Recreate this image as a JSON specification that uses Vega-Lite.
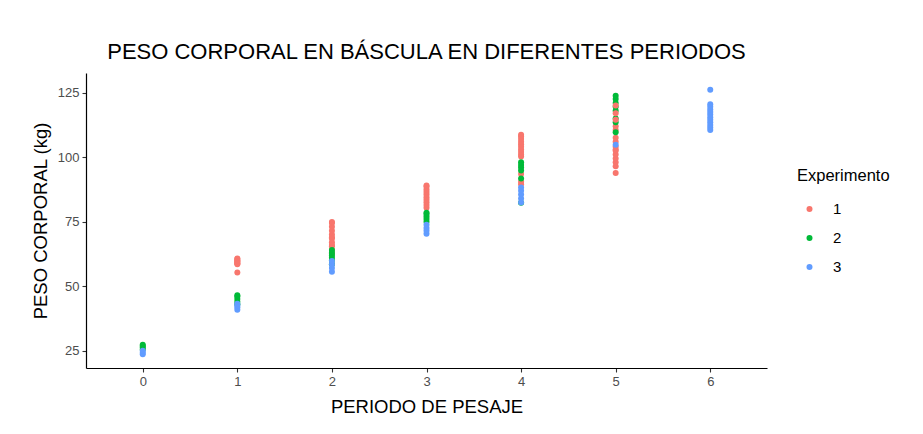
{
  "$schema": "https://vega.github.io/schema/vega-lite/v6.json",
  "width": 681,
  "height": 295,
  "autosize": "none",
  "padding": {"left": 86, "top": 73, "right": 156, "bottom": 66},
  "background": "white",
  "config": {
    "view": {"stroke": null},
    "font": "Liberation Sans"
  },
  "title": {
    "text": "PESO CORPORAL EN BÁSCULA EN DIFERENTES PERIODOS",
    "font": "Liberation Sans",
    "fontSize": 22,
    "fontWeight": "normal",
    "color": "#000000",
    "anchor": "middle",
    "baseline": "alphabetic",
    "offset": -8
  },
  "data": {
    "values": [
      {"periodo": 1, "peso": 55.3, "exp": "1"},
      {"periodo": 1, "peso": 58.5, "exp": "1"},
      {"periodo": 1, "peso": 59.0, "exp": "1"},
      {"periodo": 1, "peso": 59.5, "exp": "1"},
      {"periodo": 1, "peso": 60.0, "exp": "1"},
      {"periodo": 1, "peso": 60.5, "exp": "1"},
      {"periodo": 1, "peso": 60.7, "exp": "1"},
      {"periodo": 1, "peso": 59.8, "exp": "1"},
      {"periodo": 1, "peso": 58.8, "exp": "1"},
      {"periodo": 2, "peso": 62.7, "exp": "1"},
      {"periodo": 2, "peso": 64.0, "exp": "1"},
      {"periodo": 2, "peso": 65.5, "exp": "1"},
      {"periodo": 2, "peso": 67.0, "exp": "1"},
      {"periodo": 2, "peso": 68.5, "exp": "1"},
      {"periodo": 2, "peso": 70.0, "exp": "1"},
      {"periodo": 2, "peso": 71.5, "exp": "1"},
      {"periodo": 2, "peso": 73.0, "exp": "1"},
      {"periodo": 2, "peso": 74.5, "exp": "1"},
      {"periodo": 2, "peso": 74.9, "exp": "1"},
      {"periodo": 2, "peso": 66.0, "exp": "1"},
      {"periodo": 2, "peso": 69.0, "exp": "1"},
      {"periodo": 3, "peso": 80.4, "exp": "1"},
      {"periodo": 3, "peso": 81.5, "exp": "1"},
      {"periodo": 3, "peso": 82.5, "exp": "1"},
      {"periodo": 3, "peso": 83.5, "exp": "1"},
      {"periodo": 3, "peso": 84.5, "exp": "1"},
      {"periodo": 3, "peso": 85.5, "exp": "1"},
      {"periodo": 3, "peso": 86.5, "exp": "1"},
      {"periodo": 3, "peso": 87.5, "exp": "1"},
      {"periodo": 3, "peso": 88.5, "exp": "1"},
      {"periodo": 3, "peso": 89.0, "exp": "1"},
      {"periodo": 4, "peso": 100.2, "exp": "1"},
      {"periodo": 4, "peso": 101.0, "exp": "1"},
      {"periodo": 4, "peso": 102.0, "exp": "1"},
      {"periodo": 4, "peso": 103.0, "exp": "1"},
      {"periodo": 4, "peso": 104.0, "exp": "1"},
      {"periodo": 4, "peso": 105.0, "exp": "1"},
      {"periodo": 4, "peso": 106.0, "exp": "1"},
      {"periodo": 4, "peso": 107.0, "exp": "1"},
      {"periodo": 4, "peso": 108.0, "exp": "1"},
      {"periodo": 4, "peso": 108.7, "exp": "1"},
      {"periodo": 4, "peso": 93.5, "exp": "1"},
      {"periodo": 4, "peso": 90.5, "exp": "1"},
      {"periodo": 4, "peso": 89.5, "exp": "1"},
      {"periodo": 5, "peso": 93.9, "exp": "1"},
      {"periodo": 5, "peso": 96.5, "exp": "1"},
      {"periodo": 5, "peso": 98.0, "exp": "1"},
      {"periodo": 5, "peso": 99.5, "exp": "1"},
      {"periodo": 5, "peso": 101.0, "exp": "1"},
      {"periodo": 5, "peso": 102.5, "exp": "1"},
      {"periodo": 5, "peso": 104.0, "exp": "1"},
      {"periodo": 5, "peso": 106.0, "exp": "1"},
      {"periodo": 5, "peso": 107.5, "exp": "1"},
      {"periodo": 5, "peso": 110.5, "exp": "1"},
      {"periodo": 5, "peso": 112.0, "exp": "1"},
      {"periodo": 5, "peso": 103.0, "exp": "1"},
      {"periodo": 0, "peso": 25.5, "exp": "2"},
      {"periodo": 0, "peso": 26.2, "exp": "2"},
      {"periodo": 0, "peso": 26.8, "exp": "2"},
      {"periodo": 0, "peso": 27.3, "exp": "2"},
      {"periodo": 1, "peso": 43.0, "exp": "2"},
      {"periodo": 1, "peso": 44.0, "exp": "2"},
      {"periodo": 1, "peso": 45.0, "exp": "2"},
      {"periodo": 1, "peso": 46.0, "exp": "2"},
      {"periodo": 1, "peso": 46.5, "exp": "2"},
      {"periodo": 2, "peso": 58.5, "exp": "2"},
      {"periodo": 2, "peso": 60.0, "exp": "2"},
      {"periodo": 2, "peso": 61.0, "exp": "2"},
      {"periodo": 2, "peso": 62.0, "exp": "2"},
      {"periodo": 2, "peso": 63.0, "exp": "2"},
      {"periodo": 2, "peso": 64.0, "exp": "2"},
      {"periodo": 3, "peso": 75.0, "exp": "2"},
      {"periodo": 3, "peso": 76.0, "exp": "2"},
      {"periodo": 3, "peso": 77.0, "exp": "2"},
      {"periodo": 3, "peso": 78.0, "exp": "2"},
      {"periodo": 3, "peso": 78.5, "exp": "2"},
      {"periodo": 4, "peso": 96.0, "exp": "2"},
      {"periodo": 4, "peso": 97.0, "exp": "2"},
      {"periodo": 4, "peso": 98.0, "exp": "2"},
      {"periodo": 4, "peso": 94.8, "exp": "2"},
      {"periodo": 4, "peso": 91.7, "exp": "2"},
      {"periodo": 4, "peso": 82.3, "exp": "2"},
      {"periodo": 5, "peso": 123.8, "exp": "2"},
      {"periodo": 5, "peso": 122.5, "exp": "2"},
      {"periodo": 5, "peso": 121.0, "exp": "2"},
      {"periodo": 5, "peso": 119.5, "exp": "2"},
      {"periodo": 5, "peso": 118.0, "exp": "2"},
      {"periodo": 5, "peso": 115.0, "exp": "2"},
      {"periodo": 5, "peso": 113.5, "exp": "2"},
      {"periodo": 5, "peso": 109.6, "exp": "2"},
      {"periodo": 5, "peso": 117.0, "exp": "1"},
      {"periodo": 5, "peso": 120.0, "exp": "1"},
      {"periodo": 5, "peso": 114.5, "exp": "1"},
      {"periodo": 0, "peso": 23.6, "exp": "3"},
      {"periodo": 0, "peso": 24.2, "exp": "3"},
      {"periodo": 0, "peso": 25.0, "exp": "3"},
      {"periodo": 1, "peso": 40.9, "exp": "3"},
      {"periodo": 1, "peso": 41.8, "exp": "3"},
      {"periodo": 1, "peso": 42.5, "exp": "3"},
      {"periodo": 1, "peso": 43.2, "exp": "3"},
      {"periodo": 2, "peso": 55.6, "exp": "3"},
      {"periodo": 2, "peso": 57.0, "exp": "3"},
      {"periodo": 2, "peso": 58.5, "exp": "3"},
      {"periodo": 2, "peso": 59.8, "exp": "3"},
      {"periodo": 3, "peso": 70.3, "exp": "3"},
      {"periodo": 3, "peso": 71.5, "exp": "3"},
      {"periodo": 3, "peso": 72.5, "exp": "3"},
      {"periodo": 3, "peso": 73.8, "exp": "3"},
      {"periodo": 4, "peso": 82.4, "exp": "3"},
      {"periodo": 4, "peso": 84.0, "exp": "3"},
      {"periodo": 4, "peso": 85.5, "exp": "3"},
      {"periodo": 4, "peso": 87.0, "exp": "3"},
      {"periodo": 4, "peso": 88.2, "exp": "3"},
      {"periodo": 5, "peso": 104.8, "exp": "3"},
      {"periodo": 6, "peso": 126.1, "exp": "3"},
      {"periodo": 6, "peso": 110.5, "exp": "3"},
      {"periodo": 6, "peso": 111.5, "exp": "3"},
      {"periodo": 6, "peso": 112.5, "exp": "3"},
      {"periodo": 6, "peso": 113.5, "exp": "3"},
      {"periodo": 6, "peso": 114.5, "exp": "3"},
      {"periodo": 6, "peso": 115.5, "exp": "3"},
      {"periodo": 6, "peso": 116.5, "exp": "3"},
      {"periodo": 6, "peso": 117.5, "exp": "3"},
      {"periodo": 6, "peso": 118.5, "exp": "3"},
      {"periodo": 6, "peso": 119.5, "exp": "3"},
      {"periodo": 6, "peso": 120.5, "exp": "3"}
    ]
  },
  "mark": {"type": "point", "filled": true, "opacity": 1, "size": 36, "shape": "circle"},
  "encoding": {
    "x": {
      "field": "periodo",
      "type": "quantitative",
      "scale": {"domain": [-0.6, 6.6], "nice": false, "zero": false},
      "axis": {
        "title": "PERIODO DE PESAJE",
        "titleFont": "Liberation Sans",
        "titleFontSize": 18.5,
        "titleFontWeight": "normal",
        "titleColor": "#000000",
        "titleY": 44.7,
        "titleBaseline": "alphabetic",
        "values": [0, 1, 2, 3, 4, 5, 6],
        "format": "d",
        "grid": false,
        "domainColor": "#000000",
        "domainWidth": 1.2,
        "tickColor": "#333333",
        "tickSize": 4,
        "tickWidth": 1.1,
        "labelColor": "#4D4D4D",
        "labelFont": "Liberation Sans",
        "labelFontSize": 13,
        "labelPadding": 3
      }
    },
    "y": {
      "field": "peso",
      "type": "quantitative",
      "scale": {"domain": [18.3, 132.6], "nice": false, "zero": false},
      "axis": {
        "title": "PESO CORPORAL (kg)",
        "titleFont": "Liberation Sans",
        "titleFontSize": 18.5,
        "titleFontWeight": "normal",
        "titleColor": "#000000",
        "titleX": -46,
        "titleY": 147.5,
        "titleAngle": -90,
        "titleAlign": "center",
        "titleBaseline": "middle",
        "values": [25, 50, 75, 100, 125],
        "grid": false,
        "domainColor": "#000000",
        "domainWidth": 1.2,
        "tickColor": "#333333",
        "tickSize": 4,
        "tickWidth": 1.1,
        "labelColor": "#4D4D4D",
        "labelFont": "Liberation Sans",
        "labelFontSize": 13,
        "labelPadding": 3
      }
    },
    "color": {
      "field": "exp",
      "type": "nominal",
      "scale": {"domain": ["1", "2", "3"], "range": ["#F8766D", "#00BA38", "#619CFF"]},
      "legend": {
        "title": "Experimento",
        "orient": "none",
        "legendX": 711,
        "legendY": 95,
        "titleFont": "Liberation Sans",
        "titleFontSize": 16.5,
        "titleFontWeight": "normal",
        "titleColor": "#000000",
        "titlePadding": 17,
        "labelFont": "Liberation Sans",
        "labelFontSize": 15,
        "labelColor": "#000000",
        "symbolType": "circle",
        "symbolSize": 36,
        "symbolOffset": 5,
        "labelOffset": 16,
        "rowPadding": 13
      }
    }
  }
}
